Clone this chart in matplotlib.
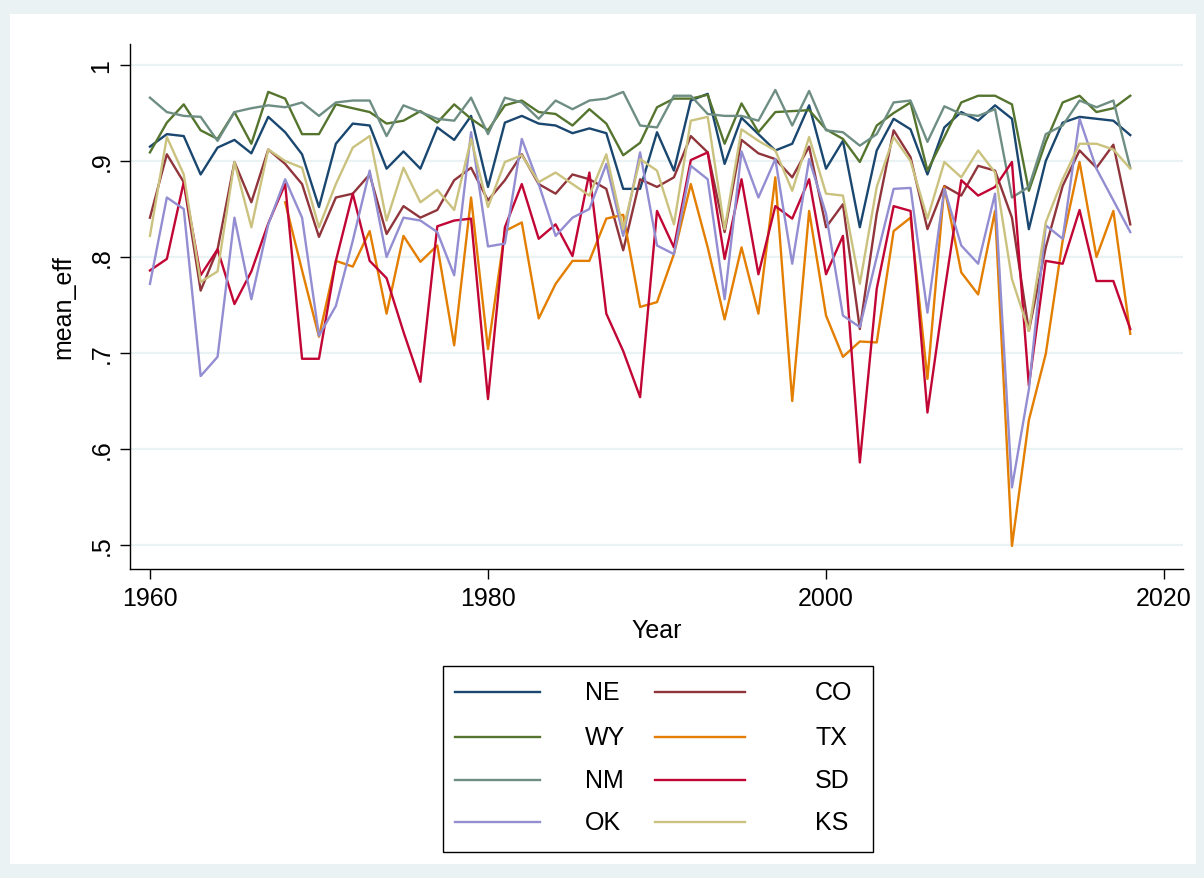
"""mean_eff by state, 1960-2018 (Stata s2color look)."""

import matplotlib

matplotlib.use("Agg", force=True)
import matplotlib.pyplot as plt
import numpy as np
from matplotlib.lines import Line2D
from matplotlib.patches import Rectangle

plt.rcParams["font.family"] = ["Liberation Sans", "DejaVu Sans"]

years = np.arange(1960, 2019)
nan = np.nan

ne = [.915, .928, .926, .886, .914, .922, .908, .946, .930, .907,
      .852, .918, .939, .937, .892, .910, .892, .935, .922, .947,
      .873, .940, .947, .939, .937, .929, .934, .929, .871, .871,
      .930, .890, .963, .970, .897, .945, .928, .911, .918, .958,
      .892, .921, .831, .911, .944, .933, .886, .935, .951, .942,
      .958, .944, .829, .900, .940, .946, .944, .942, .927]
co = [.841, .907, .878, .765, .808, .899, .857, .912, .897, .876,
      .821, .862, .866, .886, .824, .853, .841, .849, .880, .893,
      .859, .880, .907, .876, .866, .886, .881, .871, .807, .881,
      .873, .883, .926, .909, .826, .922, .908, .902, .883, .915,
      .831, .855, .725, .845, .932, .904, .829, .874, .864, .895,
      .890, .841, .723, .810, .874, .911, .893, .917, .834]
wy = [.909, .940, .959, .932, .923, .951, .918, .972, .965, .928,
      .928, .959, .955, .951, .939, .942, .952, .940, .959, .944,
      .932, .958, .963, .951, .949, .937, .954, .939, .906, .919,
      .956, .965, .965, .969, .918, .960, .930, .951, .952, .953,
      .933, .923, .899, .937, .950, .961, .890, .925, .961, .968,
      .968, .959, .869, .920, .961, .968, .951, .955, .968]
tx = [nan, nan, nan, nan, nan, nan, nan, nan, .857, .786,
      .717, .796, .790, .827, .741, .822, .795, .812, .708, .862,
      .704, .827, .836, .736, .772, .796, .796, .840, .844, .748,
      .753, .803, .876, .810, .735, .810, .741, .883, .650, .848,
      .739, .696, .712, .711, .827, .841, .673, .873, .784, .761,
      .848, .499, .630, .699, .817, .899, .800, .848, .720]
nm = [.966, .951, .947, .946, .921, .951, .955, .958, .956, .961,
      .947, .961, .963, .963, .926, .958, .951, .944, .942, .966,
      .928, .966, .961, .944, .963, .954, .963, .965, .972, .937,
      .935, .968, .968, .949, .947, .947, .942, .974, .937, .973,
      .932, .930, .916, .928, .961, .963, .920, .957, .949, .947,
      .954, .862, .873, .928, .937, .963, .956, .963, .893]
sd = [.786, .798, .878, .781, .808, .751, .785, .835, .876, .694,
      .694, .796, .866, .796, .778, .722, .670, .832, .838, .840,
      .652, .831, .876, .819, .834, .801, .888, .741, .702, .654,
      .848, .810, .901, .909, .798, .881, .782, .853, .840, .881,
      .782, .822, .586, .767, .853, .848, .638, .763, .880, .864,
      .873, .899, .666, .796, .793, .849, .775, .775, .725]
ok = [.772, .862, .850, .676, .696, .841, .756, .834, .881, .841,
      .718, .749, .817, .890, .800, .841, .838, .826, .781, .930,
      .811, .814, .923, .876, .822, .841, .850, .897, .822, .909,
      .812, .803, .895, .881, .756, .910, .862, .902, .793, .902,
      .845, .739, .727, .800, .871, .872, .742, .871, .812, .793,
      .866, .560, .662, .833, .819, .944, .892, .859, .826]
ks = [.822, .925, .886, .774, .785, .899, .831, .912, .900, .893,
      .831, .876, .914, .926, .838, .893, .857, .870, .849, .923,
      .852, .899, .906, .878, .888, .876, .864, .907, .829, .902,
      .890, .834, .942, .946, .829, .933, .921, .911, .869, .925,
      .866, .864, .772, .873, .925, .900, .840, .899, .883, .911,
      .888, .777, .723, .836, .881, .918, .918, .912, .892]

states = ["NE", "CO", "WY", "TX", "NM", "SD", "OK", "KS"]
series = [ne, co, wy, tx, nm, sd, ok, ks]
colors = ["#1A476F", "#90353B", "#55752F", "#E37E00",
          "#6E8E84", "#C10534", "#938DD2", "#CAC27E"]

yticks = [1.0, 0.9, 0.8, 0.7, 0.6, 0.5]
ytick_labels = ["1", ".9", ".8", ".7", ".6", ".5"]
xticks = [1960, 1980, 2000, 2020]

W, H = 1204, 879
fig = plt.figure(figsize=(W / 100, H / 100), dpi=100, facecolor="#EAF2F3")
fig.patches.append(Rectangle((10 / W, 14 / H), (W - 18) / W, (H - 29) / H,
                             transform=fig.transFigure, facecolor="white",
                             edgecolor="none", zorder=-5))

ax = fig.add_axes([130 / W, 1 - 570 / H, (1183 - 130) / W, (570 - 45) / H])
ax.set_facecolor("white")

for name, vals, c in zip(states, series, colors):
    ax.plot(years, vals, color=c, lw=1.7, label=name, zorder=3)

ax.set_xlim(1958.82, 2021.12)
ax.set_ylim(0.475, 1.0219)
ax.set_yticks(yticks)
ax.set_yticklabels(ytick_labels, rotation=90, va="center")
ax.set_xticks(xticks)
ax.grid(axis="y", color="#EAF2F3", lw=1.6, zorder=1)
ax.tick_params(axis="both", labelsize=18, length=7, width=1, color="black", pad=5)
for s in ["top", "right"]:
    ax.spines[s].set_visible(False)
for s in ["left", "bottom"]:
    ax.spines[s].set_color("black")
    ax.spines[s].set_linewidth(1)

ax.set_xlabel("Year", fontsize=18, labelpad=6)
ax.set_ylabel("mean_eff", fontsize=18, labelpad=10)

# legend drawn by hand (pixel layout of Stata's 2-column legend)
def fx(px):
    return px / W


def fy(py):
    return 1 - py / H


fig.patches.append(Rectangle((fx(443), fy(853)), fx(873) - fx(443), fy(667) - fy(853),
                             transform=fig.transFigure, facecolor="white",
                             edgecolor="black", lw=1, zorder=5))
row_y = [693, 738, 781, 823]
cols = [(455, 540, 585), (655, 745, 815)]
for i, (name, c) in enumerate(zip(states, colors)):
    r, k = divmod(i, 2)
    x0, x1, xt = cols[k]
    fig.add_artist(Line2D([fx(x0), fx(x1)], [fy(row_y[r])] * 2, color=c, lw=1.7,
                          transform=fig.transFigure, zorder=6))
    fig.text(fx(xt), fy(row_y[r]), name, fontsize=18, ha="left", va="center", zorder=6)

fig.savefig("out.png", dpi=100, facecolor=fig.get_facecolor())
